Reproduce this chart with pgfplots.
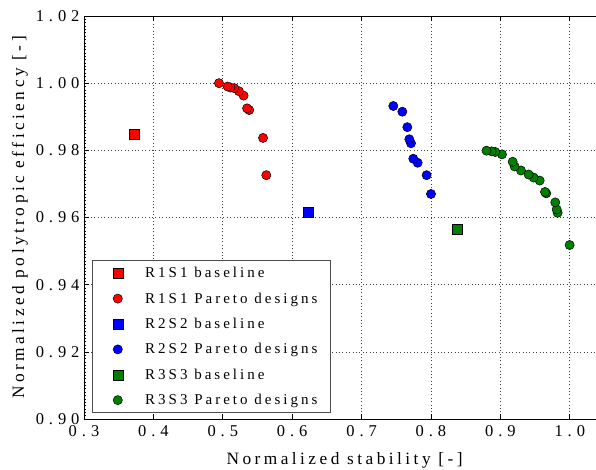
\documentclass[border=0pt]{standalone}
\usepackage{fontspec}
\setmainfont{Liberation Serif}[LetterSpace=20]
\usepackage{pgfplots}
\pgfplotsset{compat=1.18}
\definecolor{mred}{RGB}{255,0,0}
\definecolor{mblue}{RGB}{0,0,255}
\definecolor{mgreen}{RGB}{0,128,0}
\pgfplotsset{mymarkleg/.style={only marks,
  legend image code/.code={\path (0bp,0bp) (39bp,0bp); \draw[mark repeat=2,mark phase=2,##1] plot coordinates {(0bp,0bp)(14bp,0bp)(39bp,0bp)};}}}
\begin{document}
\begin{tikzpicture}
\begin{axis}[
  scale only axis,
  width=512bp, height=403bp,
  xmin=0.3, xmax=1.0378,
  ymin=0.90, ymax=1.02,
  xtick={0.3,0.4,0.5,0.6,0.7,0.8,0.9,1.0},
  ytick={0.90,0.92,0.94,0.96,0.98,1.00,1.02},
  minor y tick num=19,
  tick align=inside,
  xtick pos=both, ytick pos=left,
  major tick length=5bp, minor tick length=2.5bp,
  /pgf/number format/assume math mode=true,
  xticklabel style={yshift=-3bp, /pgf/number format/.cd, fixed, fixed zerofill, precision=1},
  yticklabel style={xshift=-1bp, /pgf/number format/.cd, fixed, fixed zerofill, precision=2},
  ticklabel style={font=\fontsize{16.5bp}{18bp}\selectfont\addfontfeatures{LetterSpace=30}},
  xmajorgrids, ymajorgrids,
  grid style={black!75, line width=0.6bp, dash pattern=on 0.8bp off 2.6bp},
  axis line style={black, line width=0.8bp},
  every tick/.style={black, line width=0.6bp},
  xlabel={Normalized stability [-]},
  ylabel={Normalized polytropic efficiency [-]},
  label style={font=\fontsize{17.3bp}{19bp}\selectfont},
  xlabel style={at={(axis description cs:0.509,-0.1117)}, anchor=base},
  ylabel style={at={(axis description cs:-0.125,0.5)}, anchor=center},
  legend cell align=left,
  legend style={at={(axis description cs:0.0156,0.0149)}, anchor=south west,
    font=\fontsize{15bp}{17bp}\selectfont, draw=black!70, line width=0.8bp,
    row sep=9.5bp, inner xsep=11bp, inner ysep=4.5bp},
]
\addplot[mymarkleg, mark=square*, mark size=5bp, mark options={fill=mred, draw=black, line width=0.5bp}] coordinates {(0.372,0.9847)};
\addlegendentry{R1S1 baseline}
\addplot[mymarkleg, mark=*, mark size=4.6bp, mark options={fill=mred, draw=black, line width=0.5bp}] coordinates {
(0.5627,0.9726) (0.558,0.9837) (0.538,0.9920) (0.535,0.9925) (0.530,0.9963)
(0.5233,0.9976) (0.5166,0.9985) (0.511,0.9987) (0.507,0.9990) (0.4945,1.0000)
};
\addlegendentry{R1S1 Pareto designs}
\addplot[mymarkleg, mark=square*, mark size=5bp, mark options={fill=mblue, draw=black, line width=0.5bp}] coordinates {(0.6228,0.9616)};
\addlegendentry{R2S2 baseline}
\addplot[mymarkleg, mark=*, mark size=4.6bp, mark options={fill=mblue, draw=black, line width=0.5bp}] coordinates {
(0.8000,0.9670) (0.7937,0.9726) (0.7808,0.9763) (0.7745,0.9775) (0.7712,0.9821)
(0.7688,0.9833) (0.7659,0.9869) (0.7587,0.9915) (0.7457,0.9932)
};
\addlegendentry{R2S2 Pareto designs}
\addplot[mymarkleg, mark=square*, mark size=5bp, mark options={fill=mgreen, draw=black, line width=0.5bp}] coordinates {(0.8375,0.9564)};
\addlegendentry{R3S3 baseline}
\addplot[mymarkleg, mark=*, mark size=4.6bp, mark options={fill=mgreen, draw=black, line width=0.5bp}] coordinates {
(0.9998,0.9518) (0.9825,0.9614) (0.9811,0.9624) (0.9791,0.9645) (0.9661,0.9672)
(0.9643,0.9676) (0.9566,0.9710) (0.9479,0.9719) (0.9407,0.9728) (0.9297,0.9740)
(0.9205,0.9752) (0.9177,0.9766) (0.9023,0.9788) (0.8927,0.9795) (0.8874,0.9797)
(0.8800,0.9799)
};
\addlegendentry{R3S3 Pareto designs}
\end{axis}
\path (current axis.south west) ++(-84bp,-51bp) coordinate (bl);
\path (current axis.north east) ++(0bp,16bp) coordinate (tr);
\pgfresetboundingbox
\path (bl) rectangle (tr);
\end{tikzpicture}
\end{document}
